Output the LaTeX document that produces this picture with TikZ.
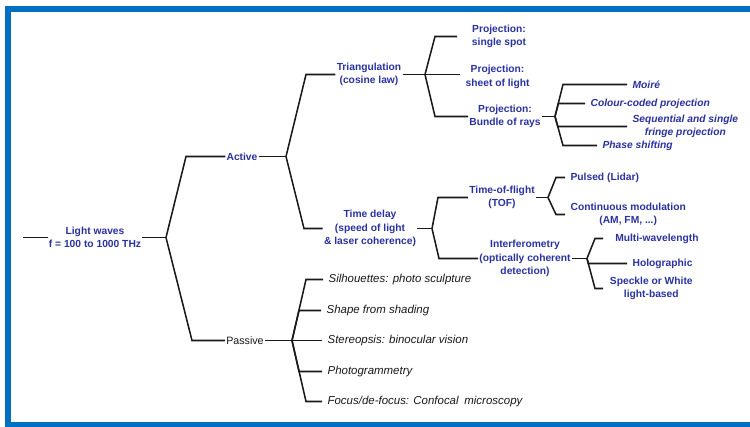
\documentclass[tikz,border=0pt]{standalone}
\usepackage{fontspec}
\setmainfont{Liberation Sans}
\definecolor{frameblue}{RGB}{0,112,192}
\definecolor{textblue}{RGB}{42,50,160}
\tikzset{
  branch/.style={line width=1.15pt, draw=black!90},
  method/.style={text=textblue, font=\bfseries\fontsize{7.7}{10.2}\selectfont, align=center, inner xsep=0.8pt, inner ysep=1pt},
  subject/.style={method, anchor=west, inner xsep=4pt},
  variant/.style={text=textblue, font=\bfseries\itshape\fontsize{7.7}{10.2}\selectfont, align=center, anchor=west, inner xsep=4pt, inner ysep=1pt},
  passivebox/.style={text=black!90, font=\fontsize{8}{10}\selectfont, inner xsep=0.8pt, inner ysep=1pt},
  technique/.style={text=black!90, font=\itshape\fontsize{8.6}{10}\selectfont, anchor=west, inner xsep=4pt, inner ysep=1pt}
}
\begin{document}
\begin{tikzpicture}[x=0.75pt, y=-0.75pt]

        %Canvas and frame
        \useasboundingbox (0,0) rectangle (750,426);
        \fill [white] (0,0) rectangle (750,426);
        \draw [frameblue, line width=4.5pt] (8,8.5) rectangle (790,424.5);

        %Root
        \coordinate (in0) at (23,237.5);
        \node [method] (light) at (95,237.5) {Light waves\\f = 100 to 1000 THz};
        \coordinate (f0) at (166,237.5);
        \draw [branch] (in0) -- (light);
        \draw [branch] (light) -- (f0);

        %Active and passive
        \node [method]     (active)  at (242,156.5) {Active};
        \node [passivebox] (passive) at (245,340.5) {Passive};
        \draw [branch] (f0) -- (active.west -| 186,0)  -- (active.west);
        \draw [branch] (f0) -- (passive.west -| 192,0) -- (passive.west);
        \coordinate (f1) at (286,156.5);
        \coordinate (f7) at (292,340.5);
        \draw [branch] (active)  -- (f1);
        \draw [branch] (passive) -- (f7);

        %Triangulation and time delay
        \node [method] (tri)    at (369,74.5)  {Triangulation\\(cosine law)};
        \node [method] (tdelay) at (370,228.5) {Time delay\\(speed of light\\\& laser coherence)};
        \draw [branch] (f1) -- (tri.west -| 306,0)    -- (tri.west);
        \draw [branch] (f1) -- (tdelay.west -| 304,0) -- (tdelay.west);
        \coordinate (f2) at (425,74.5);
        \coordinate (f3) at (432,228.5);
        \draw [branch] (tri)    -- (f2);
        \draw [branch] (tdelay) -- (f3);

        %Projection types
        \node [subject, inner xsep=11pt] (spot)  at (457,36.5) {Projection:\\single spot};
        \node [subject]                  (sheet) at (460,77)   {Projection:\\sheet of light};
        \node [method]                   (rays)  at (505,116.5) {Projection:\\Bundle of rays};
        \draw [branch] (f2) -- (spot.west -| 435,0) -- (spot.west);
        \draw [branch] (f2) -- (f2 -| sheet.west);
        \draw [branch] (f2) -- (rays.west -| 435,0) -- (rays.west);
        \coordinate (f5) at (555,116.5);
        \draw [branch] (rays) -- (f5);

        %Bundle of rays
        \node [variant] (moire)  at (627,84.5)  {Moiré};
        \node [variant] (colour) at (585,103.5) {Colour-coded projection};
        \node [variant] (seq)    at (627,126.5) {Sequential and single\\fringe projection};
        \node [variant] (phase)  at (597,145.5) {Phase shifting};
        \draw [branch] (f5) -- (moire.west -| 563,0)    -- (moire.west);
        \draw [branch] (f5) -- (colour.west -| 558.4,0) -- (colour.west);
        \draw [branch] (f5) -- (seq.west -| 557.8,0)    -- (seq.west);
        \draw [branch] (f5) -- (phase.west -| 563,0)    -- (phase.west);

        %Time-of-flight and interferometry
        \node [method] (tof)    at (502,197.5) {Time-of-flight\\(TOF)};
        \node [method] (interf) at (525,258.5) {Interferometry\\(optically coherent\\detection)};
        \draw [branch] (f3) -- (tof.west -| 438,0)    -- (tof.west);
        \draw [branch] (f3) -- (interf.west -| 439,0) -- (interf.west);
        \coordinate (f4) at (548,197.5);
        \coordinate (f6) at (587,258.5);
        \draw [branch] (tof)    -- (f4);
        \draw [branch] (interf) -- (f6);

        %Time-of-flight types
        \node [subject] (pulsed) at (565,177.5) {Pulsed (Lidar)};
        \node [subject] (contin) at (565,214.5) {Continuous modulation\\(AM, FM, ...)};
        \draw [branch] (f4) -- (pulsed.west -| 556,0) -- (pulsed.west);
        \draw [branch] (f4) -- (contin.west -| 556,0) -- (contin.west);

        %Interferometry types
        \node [subject, inner xsep=9pt] (multi)   at (603,238.5) {Multi-wavelength};
        \node [subject]                 (holo)    at (627,263.5) {Holographic};
        \node [subject, inner xsep=5pt] (speckle) at (603,288.5) {Speckle or White\\light-based};
        \draw [branch] (f6) -- (multi.west -| 595,0)   -- (multi.west);
        \draw [branch] (f6) -- (holo.west -| 588.3,0)  -- (holo.west);
        \draw [branch] (f6) -- (speckle.west -| 595,0) -- (speckle.west);

        %Passive techniques
        \node [technique] (silh)   at (323,279.5) {Silhouettes: photo sculpture};
        \node [technique] (shape)  at (321,310.5) {Shape from shading};
        \node [technique] (stereo) at (322,340.5) {Stereopsis: binocular vision};
        \node [technique] (photo)  at (322,371.5) {Photogrammetry};
        \node [technique] (focus)  at (322,401.5) {Focus/de-focus: Confocal\enspace microscopy};
        \draw [branch] (f7) -- (silh.west -| 306,0)  -- (silh.west);
        \draw [branch] (f7) -- (shape.west -| 299,0) -- (shape.west);
        \draw [branch] (f7) -- (f7 -| stereo.west);
        \draw [branch] (f7) -- (photo.west -| 299,0) -- (photo.west);
        \draw [branch] (f7) -- (focus.west -| 306,0) -- (focus.west);

\end{tikzpicture}
\end{document}
